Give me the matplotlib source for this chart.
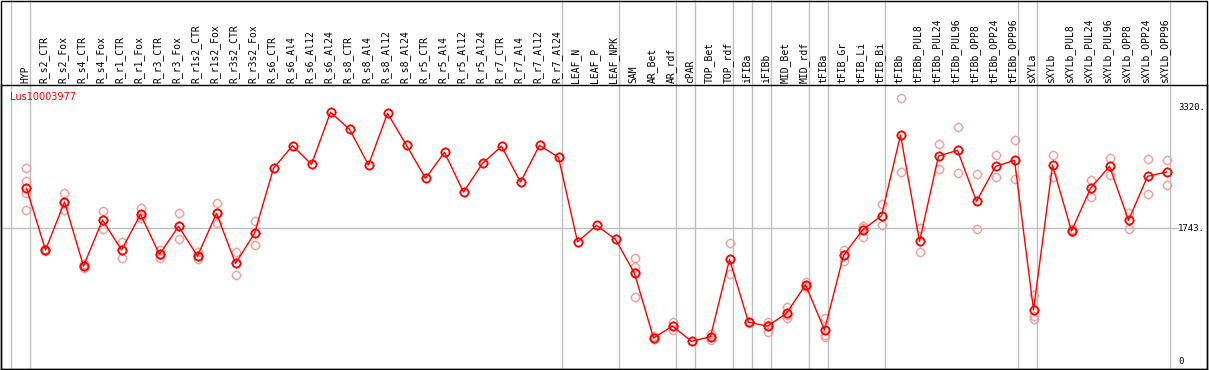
import matplotlib
matplotlib.use("Agg")
import matplotlib.pyplot as plt
from matplotlib.path import Path
from matplotlib.patches import Rectangle
import matplotlib.transforms as mtransforms
import numpy as np

# sample names, means and replicate values
samples = ["HYP", "R_s2_CTR", "R_s2_Fox", "R_s4_CTR", "R_s4_Fox", "R_r1_CTR", "R_r1_Fox",
           "R_r3_CTR", "R_r3_Fox", "R_r1s2_CTR", "R_r1s2_Fox", "R_r3s2_CTR", "R_r3s2_Fox",
           "R_s6_CTR", "R_s6_Al4", "R_s6_Al12", "R_s6_Al24", "R_s8_CTR", "R_s8_Al4",
           "R_s8_Al12", "R_s8_Al24", "R_r5_CTR", "R_r5_Al4", "R_r5_Al12", "R_r5_Al24",
           "R_r7_CTR", "R_r7_Al4", "R_r7_Al12", "R_r7_Al24", "LEAF_N", "LEAF_P", "LEAF_NPK",
           "SAM", "AR_Bet", "AR_rdf", "cPAR", "TOP_Bet", "TOP_rdf", "iFIBa", "iFIBb",
           "MID_Bet", "MID_rdf", "tFIBa", "tFIB_Gr", "tFIB_Li", "tFIB_Bi", "tFIBb",
           "tFIBb_PUL8", "tFIBb_PUL24", "tFIBb_PUL96", "tFIBb_OPP8", "tFIBb_OPP24",
           "tFIBb_OPP96", "sXYLa", "sXYLb", "sXYLb_PUL8", "sXYLb_PUL24", "sXYLb_PUL96",
           "sXYLb_OPP8", "sXYLb_OPP24", "sXYLb_OPP96"]

means = [2266, 1460, 2087, 1250, 1852, 1460, 1926, 1403, 1769, 1381, 1939, 1285, 1678,
         2527, 2823, 2579, 3259, 3037, 2570, 3246, 2828, 2396, 2736, 2217, 2592,
         2815, 2348, 2828, 2671, 1566, 1782, 1599,
         1155, 310, 466, 266, 327, 1338, 515, 466,
         632, 1006, 414, 1390, 1721, 1908, 2962,
         1573, 2688, 2762, 2096, 2553, 2632,
         676, 2566, 1708, 2266, 2553, 1848, 2423, 2479]

reps = [[2527, 2361, 2208, 1982], [1475, 1455, 1450], [2200, 2080, 1982], [1277, 1250, 1220],
        [1969, 1852, 1730], [1568, 1460, 1351], [2004, 1900, 1874], [1460, 1400, 1351],
        [1939, 1769, 1599], [1429, 1381, 1346], [2070, 1939, 1808], [1429, 1290, 1133],
        [1839, 1678, 1521],
        [], [], [], [], [], [], [], [], [], [], [], [], [], [], [], [],
        [], [], [],
        [1351, 1242, 1176, 841], [330, 300, 300], [515, 466, 414], [],
        [358, 327, 284], [1547, 1146], [520, 510], [523, 480, 392],
        [719, 610, 567], [1045, 990, 980], [567, 350, 327], [1460, 1390, 1320],
        [1777, 1743, 1625], [2057, 1908, 1782], [3442, 2475],
        [1743, 1430], [2845, 2514], [3067, 2462], [2449, 1730], [2701, 2410],
        [2897, 2383],
        [872, 600, 560], [2701, 2418], [1730, 1690], [2374, 2156], [2658, 2436],
        [1939, 1738], [2645, 2187], [2636, 2305]]

# group separators sit just after these sample indices
group_ends = [-1, 0, 28, 31, 34, 35, 37, 38, 39, 41, 42, 45, 52, 53, 60]
ref_lines = [1743]
y_labels = [3320, 1743, 0]

W, H = 1209, 370
fig = plt.figure(figsize=(W / 100, H / 100), dpi=100)
# plot box in pixels: x 1..1207, y 85..369 from the top
ax = fig.add_axes([1 / W, 1 / H, 1206 / W, 284 / H])
x = np.arange(len(samples))
ax.set_xlim(-1.342, 62.13)
ax.set_ylim(-95, 3616)
ax.set_xticks([])
ax.set_yticks([])
for s in ax.spines.values():
    s.set_linewidth(1)
    s.set_color("black")

# four little ticks around each circle, like the original marker
ticks = Path([(0, 1), (0, 1.3), (0, -1), (0, -1.3), (1, 0), (1.3, 0), (-1, 0), (-1.3, 0)],
             [Path.MOVETO, Path.LINETO] * 4)
circ_ms = 5.8
tick_ms = circ_ms * 1.3

grey = "#c0c0c0"
trans = mtransforms.blended_transform_factory(ax.transData, ax.transAxes)
for g in group_ends:
    ax.plot([g + 0.2, g + 0.2], [0, 1.3], color=grey, lw=1, transform=trans, clip_on=False, zorder=1)
for r in ref_lines:
    ax.plot([-1.342, 60.6], [r, r], color=grey, lw=1, zorder=1, clip_on=False)

# replicates
pink = "#f0a0a0"
for i, vals in enumerate(reps):
    if vals:
        ax.plot([i] * len(vals), vals, linestyle="none", marker="o", markersize=circ_ms,
                markerfacecolor="none", markeredgecolor=pink, markeredgewidth=1, zorder=2)
        ax.plot([i] * len(vals), vals, linestyle="none", marker=ticks, markersize=tick_ms,
                markeredgecolor=pink, markeredgewidth=1, zorder=2)

ax.plot(x, means, color="red", lw=1, marker="o", markersize=circ_ms, markerfacecolor="none",
        markeredgecolor="red", markeredgewidth=1.3, zorder=3)
ax.plot(x, means, linestyle="none", marker=ticks, markersize=tick_ms,
        markeredgecolor="red", markeredgewidth=1, zorder=3)

for i, name in enumerate(samples):
    ax.text(i - 0.08, 1.008, name, transform=trans, rotation=90, ha="center", va="bottom",
            fontsize=7, family="DejaVu Sans Mono", clip_on=False)

for v in y_labels:
    lab = "0" if v == 0 else f"{v}."
    ax.text(60.62, v, lab, ha="left", va="center", fontsize=6.5, family="DejaVu Sans Mono")

ax.text(0.0075, 0.958, "Lus10003977", transform=ax.transAxes, color="red", fontsize=7,
        ha="left", va="center")

# outer frame of the whole picture
fig.patches.append(Rectangle((1 / W, 1 / H), 1206 / W, 368.5 / H, transform=fig.transFigure,
                             fill=False, edgecolor="black", lw=1))

fig.savefig("out.png", dpi=100)
